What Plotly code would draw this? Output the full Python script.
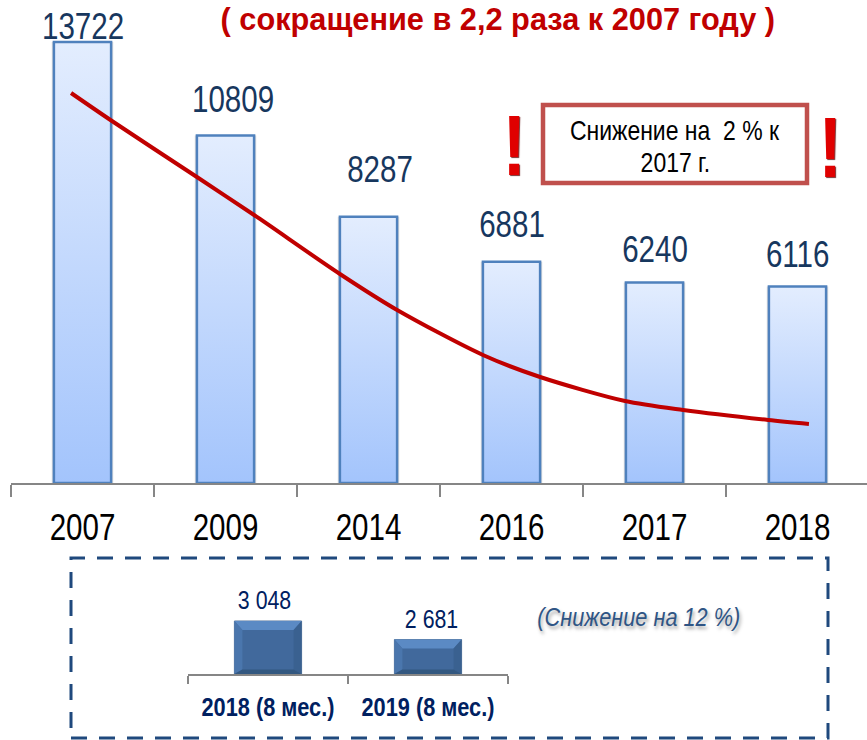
import plotly.graph_objects as go

# ---- data ----
years = ["2007", "2009", "2014", "2016", "2017", "2018"]
values = [13722, 10809, 8287, 6881, 6240, 6116]
trend_pos = [-0.08, 0.206, 0.80, 1.2, 1.8, 2.2, 2.8, 3.2, 3.794, 4.2, 4.794, 5.08]
trend_val = [12134, 11263, 9521, 8338, 6503, 5383, 3983, 3298, 2551, 2271, 1960, 1836]
periods = ["2018 (8 мес.)", "2019 (8 мес.)"]
period_values = [3048, 2681]
period_labels = ["3 048", "2 681"]
title_text = "( сокращение в 2,2 раза к 2007 году )"
box_lines = ["Снижение на  2 % к", "2017 г."]
note_text = "(Снижение на 12 %)"

# ---- layout constants ----
W, H = 867, 740
SANS = "Liberation Sans"
NAVY = "#17375e"
DARK = "#002060"
AXIS = "#868686"
px = lambda x: x / W
py = lambda y: 1 - y / H

BAR_W = 0.40
MAIN_TOP = 15028
SUB_MIN, SUB_MAX = 2000, 3660
SUB_W = 0.42
# pixel offsets of the value labels from each bar top
label_dx = [0, 7, 11, 0, 0, 0]
label_dy = [15, 36, 47, 37, 33, 32]
sub_dy = [21, 21]

fig = go.Figure()

# soft shadow / base of the main bars
fig.add_trace(go.Bar(x=years, y=values, width=BAR_W + 0.03, marker=dict(color="rgba(0,0,0,0.13)", line_width=0),
                     xaxis="x", yaxis="y", showlegend=False, hoverinfo="skip"))

# gradient-filled bars on the overlaying linear axis
for i, v in enumerate(values):
    hw = BAR_W / 2
    fig.add_trace(go.Scatter(
        x=[i - hw, i - hw, i + hw, i + hw, i - hw], y=[0, v, v, 0, 0],
        xaxis="x3", yaxis="y", mode="lines", fill="toself",
        fillgradient=dict(type="vertical", colorscale=[[0, "#a3c4fc"], [1, "#e3edfe"]]),
        line=dict(color="#4f81bd", width=2.5), showlegend=False, name=years[i]))

# trend line
fig.add_trace(go.Scatter(x=trend_pos, y=trend_val, xaxis="x3", yaxis="y", mode="lines",
                         line=dict(color="#c00000", width=4, shape="spline", smoothing=0.8),
                         showlegend=False))

# lower small chart: base bars
fig.add_trace(go.Bar(x=periods, y=[v - SUB_MIN for v in period_values], base=SUB_MIN, width=SUB_W,
                     marker=dict(color="#41699c", line=dict(color="#5f7c9f", width=1)),
                     xaxis="x2", yaxis="y2", showlegend=False))

# bevel facets on the small bars
INSET_X = 0.05
INSET_Y = (SUB_MAX - SUB_MIN) / 84 * 9
for i, v in enumerate(period_values):
    hw = SUB_W / 2
    l, r, ix = i - hw, i + hw, INSET_X
    inner_top = v - INSET_Y
    inner_bot = SUB_MIN + INSET_Y * 0.5
    facets = [
        ([l, r, r - ix, l + ix, l], [v, v, inner_top, inner_top, v], "#5b8ac4"),
        ([l, l + ix, l + ix, l, l], [v, inner_top, inner_bot, SUB_MIN, v], "#4a76ad"),
        ([r, r - ix, r - ix, r, r], [v, inner_top, inner_bot, SUB_MIN, v], "#3a6190"),
        ([l, r, r - ix, l + ix, l], [SUB_MIN, SUB_MIN, inner_bot, inner_bot, SUB_MIN], "#335880"),
    ]
    for fx, fy, col in facets:
        fig.add_trace(go.Scatter(x=fx, y=fy, xaxis="x4", yaxis="y2", mode="none", fill="toself",
                                 fillcolor=col, showlegend=False, hoverinfo="skip"))

ann = []
centered = dict(xanchor="center", yanchor="middle", showarrow=False)
for i, v in enumerate(values):
    ann.append(dict(x=i, y=v, xref="x3", yref="y", text=str(v),
                    xshift=label_dx[i], yshift=label_dy[i],
                    font=dict(family=SANS, size=36, color=NAVY), **centered))
for i, v in enumerate(period_values):
    ann.append(dict(x=i, y=v, xref="x4", yref="y2", text=period_labels[i],
                    xshift=-4 if i == 0 else 3, yshift=sub_dy[i],
                    font=dict(family=SANS, size=26, color=DARK), **centered))

ann.append(dict(x=px(498), y=py(18.5), xref="paper", yref="paper", text=title_text,
                font=dict(family=SANS, size=32, color="#c00000", weight="bold"), **centered))
for line, yy in zip(box_lines, [130, 162]):
    ann.append(dict(x=px(675), y=py(yy), xref="paper", yref="paper", text=line,
                    font=dict(family=SANS, size=28, color="#000000"), **centered))
ann.append(dict(x=px(639), y=py(617), xref="paper", yref="paper", text=note_text,
                font=dict(family=SANS, size=26.5, color="#2f5585", style="italic",
                          shadow="2px 3px 4px rgba(0,0,0,0.35)"), **centered))
for xx, yy in [(514, 145), (830, 147)]:
    ann.append(dict(x=px(xx), y=py(yy), xref="paper", yref="paper", text="!",
                    font=dict(family=SANS, size=86, color="#e00000", weight="bold",
                              shadow="1px 1px 1px rgba(90,0,0,0.8)"), **centered))

shapes = [
    dict(type="rect", xref="paper", yref="paper", x0=px(543), x1=px(807), y0=py(183), y1=py(105),
         line=dict(color="#c0504d", width=4.5), fillcolor="rgba(0,0,0,0)"),
    dict(type="rect", xref="paper", yref="paper", x0=px(71), x1=px(828), y0=py(738), y1=py(558),
         line=dict(color="#1f497d", width=3, dash="16px,12px"), fillcolor="rgba(0,0,0,0)"),
]

main_dom = [px(11), 1]
main_rng = [-0.5, 5.486]
sub_dom = [px(188), px(508)]
sub_rng = [-0.5, 1.5]

fig.update_layout(
    width=W, height=H, autosize=False, margin=dict(l=0, r=0, t=0, b=0),
    paper_bgcolor="white", plot_bgcolor="rgba(0,0,0,0)", barmode="overlay", showlegend=False,
    annotations=ann, shapes=shapes,
    xaxis=dict(domain=main_dom, range=main_rng, type="category", categoryorder="array", categoryarray=years,
               tickson="boundaries", ticks="outside", ticklen=12, tickwidth=2, tickcolor=AXIS, tickangle=0,
               showline=True, linecolor=AXIS, linewidth=2, showgrid=False, zeroline=False, anchor="y",
               automargin=False,
               tickfont=dict(family=SANS, size=36, color="#000000"), ticklabelstandoff=12),
    yaxis=dict(domain=[py(483), 1], range=[0, MAIN_TOP], visible=False, anchor="x"),
    xaxis3=dict(domain=main_dom, range=main_rng, overlaying="x", anchor="y", visible=False),
    xaxis2=dict(domain=sub_dom, range=sub_rng, type="category", categoryorder="array", categoryarray=periods,
                tickson="boundaries", ticks="outside", ticklen=8, tickwidth=1.5, tickcolor=AXIS, tickangle=0,
                showline=True, linecolor=AXIS, linewidth=1.5, showgrid=False, zeroline=False, anchor="y2",
                automargin=False,
                tickfont=dict(family=SANS, size=26.5, color=DARK, weight="bold"), ticklabelstandoff=8),
    yaxis2=dict(domain=[py(674), py(590)], range=[SUB_MIN, SUB_MAX], visible=False, anchor="x2"),
    xaxis4=dict(domain=sub_dom, range=sub_rng, overlaying="x2", anchor="y2", visible=False),
)

# No narrow face is installed: condense the regular one to the reference's narrow proportions.
POST = """
document.body.style.margin='0';document.body.style.overflow='hidden';
(function(){
  var gd=document.getElementById('{plot_id}');
  function narrow(){
    gd.querySelectorAll('.annotation-text, .xtick text, .x2tick text').forEach(function(t){
      var s=t.textContent;
      var k=s.indexOf('сокращение')>=0?0.96:0.82;
      t.removeAttribute('textLength');
      t.setAttribute('textLength',t.getComputedTextLength()*k);
      t.setAttribute('lengthAdjust','spacingAndGlyphs');
    });
  }
  narrow();
  gd.on('plotly_afterplot',narrow);
})();
"""
fig.write_html("out.html", config=dict(displayModeBar=False), post_script=POST)
